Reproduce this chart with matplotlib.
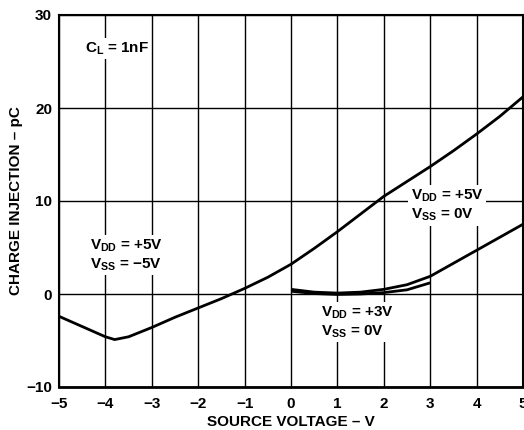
import matplotlib
matplotlib.use("Agg")
import matplotlib.pyplot as plt
import numpy as np

plt.rcParams['font.family'] = ['Liberation Sans', 'DejaVu Sans']
plt.rcParams['font.weight'] = 'bold'
plt.rcParams['mathtext.fontset'] = 'custom'
plt.rcParams['mathtext.rm'] = 'Liberation Sans:bold'
plt.rcParams['mathtext.it'] = 'Liberation Sans:bold'
plt.rcParams['mathtext.bf'] = 'Liberation Sans:bold'

# VDD=+5V, VSS=-5V
x1 = [-5, -4.5, -4, -3.8, -3.5, -3, -2.5, -2, -1.5, -1, -0.5, 0, 0.5, 1, 1.5, 2, 2.5, 3, 3.5, 4, 4.5, 5]
y1 = [-2.4, -3.5, -4.6, -4.9, -4.6, -3.6, -2.5, -1.5, -0.5, 0.6, 1.8, 3.2, 4.9, 6.7, 8.6, 10.5, 12.1, 13.7, 15.4, 17.2, 19.1, 21.2]
# VDD=+5V, VSS=0V
x2 = [0, 0.5, 1, 1.5, 2, 2.5, 3, 3.5, 4, 4.5, 5]
y2 = [0.5, 0.2, 0.1, 0.2, 0.5, 1.0, 1.9, 3.3, 4.7, 6.1, 7.5]
# VDD=+3V, VSS=0V
x3 = [0, 0.5, 1, 1.5, 2, 2.5, 3]
y3 = [0.3, 0.05, -0.05, 0.0, 0.15, 0.45, 1.2]

xticks = [-5, -4, -3, -2, -1, 0, 1, 2, 3, 4, 5]
yticks = [-10, 0, 10, 20, 30]

fig = plt.figure(figsize=(5.24, 4.30), dpi=100)
ax = fig.add_axes([59/524, 1 - 387/430, (523 - 59)/524, (387 - 15)/430])

ax.set_xlim(-5, 5)
ax.set_ylim(-10, 30)
ax.set_xticks(xticks)
ax.set_yticks(yticks)
ax.set_xticklabels([f"\u2212{abs(v)}" if v < 0 else str(v) for v in xticks], fontsize=11, fontweight='bold')
ax.set_yticklabels([f"\u2212{abs(v)}" if v < 0 else str(v) for v in yticks], fontsize=11, fontweight='bold')
ax.tick_params(length=0)
ax.tick_params(axis='x', pad=7)
ax.tick_params(axis='y', pad=5)
ax.set_axisbelow(True)
ax.grid(True, color='black', linewidth=1.0)
for s in ax.spines.values():
    s.set_linewidth(1.5)
ax.spines['bottom'].set_linewidth(2.0)

for xs, ys in [(x1, y1), (x2, y2), (x3, y3)]:
    ax.plot(xs, ys, color='black', linewidth=2.0, zorder=3, solid_capstyle='butt')

bb = dict(facecolor='white', edgecolor='none', pad=2)
ax.text(-4.45, 26.4, r"$C_L$ = 1nF", fontsize=11, fontweight='bold', va='center', ha='left', bbox=bb, zorder=2)
ax.text(-4.33, 4.2, "$V_{DD}$ = +5V\n$V_{SS}$ = \u22125V", fontsize=11, fontweight='bold', va='center', ha='left', bbox=bb, zorder=2, linespacing=1.2)
ax.text(2.58, 9.5, "$V_{DD}$ = +5V\n$V_{SS}$ = 0V", fontsize=11, fontweight='bold', va='center', ha='left', bbox=bb, zorder=2, linespacing=1.2)
ax.text(0.65, -3.0, "$V_{DD}$ = +3V\n$V_{SS}$ = 0V", fontsize=11, fontweight='bold', va='center', ha='left', bbox=bb, zorder=2, linespacing=1.2)

ax.set_xlabel("SOURCE VOLTAGE \u2013 V", fontsize=11, fontweight='bold', labelpad=3)
ax.set_ylabel("CHARGE INJECTION \u2013 pC", fontsize=11, fontweight='bold', labelpad=2)

fig.savefig("out.png", dpi=100)
